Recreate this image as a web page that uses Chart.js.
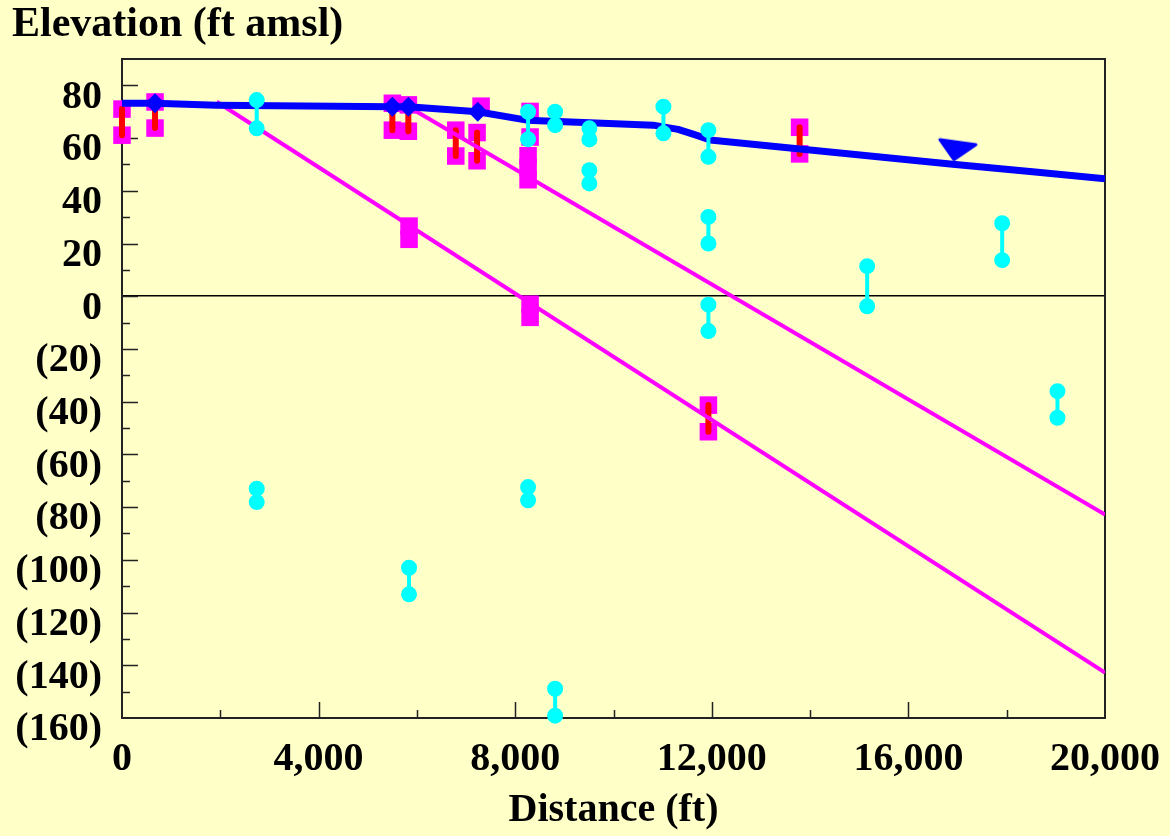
<!DOCTYPE html>
<html>
<head>
<meta charset="utf-8">
<script src="https://cdn.jsdelivr.net/npm/chart.js@4/dist/chart.umd.min.js"></script>
<style>
  html, body { margin: 0; padding: 0; background: #FFFFC8; }
  #wrap { width: 1170px; height: 836px; position: relative; }
</style>
</head>
<body>
<div id="wrap"><canvas id="chart"></canvas></div>
<script>
// water table profile (ft, ft amsl)
const waterX = [0, 672, 1927, 5501, 5826, 7238, 8236, 10806, 11314, 11650, 11966, 16850, 18580, 20000];
const waterY = [73.2, 73.2, 72.5, 71.9, 71.9, 70.0, 66.8, 64.9, 63.3, 61.3, 59.3, 50.2, 47.1, 44.6];
const diamondX = [672, 5501, 5826, 7238];
const diamondY = [73.2, 71.9, 71.9, 70.0];
const markerX = [17006];
const markerY = [55.6];

// screened wells: top / bottom of red interval
const wellX = [0, 672, 5501, 5826, 6791, 7224, 11931, 13787];
const wellTop = [71.0, 73.7, 73.2, 72.6, 63.0, 62.1, -41.3, 64.1];
const wellBottom = [61.1, 63.8, 63.0, 62.6, 53.2, 51.4, -51.4, 54.0];

// other magenta squares
const squareX = [7306, 8303, 8303, 8262, 8262, 8262, 5840, 5840, 8303, 8303];
const squareY = [72.1, 70.1, 60.4, 53.3, 48.8, 44.2, 26.6, 21.6, -3.0, -8.0];

// cyan pairs
const cyanX = [2741, 2741, 5840, 8262, 8262, 8812, 8812, 9509, 9509, 11016, 11931, 11931, 11931, 15161, 17908, 19033];
const cyanTop = [74.4, -73.0, -103.0, 70.0, -72.4, 70.0, -148.9, 63.7, 47.8, 71.9, 63.0, 30.1, -3.2, 11.4, 27.7, -36.0];
const cyanBottom = [63.7, -78.1, -113.1, 59.6, -77.4, 64.9, -159.1, 59.5, 42.8, 61.8, 52.9, 20.0, -13.2, -3.8, 13.7, -46.1];

// straight magenta lines
const lineAX = [1927, 20000];
const lineAY = [73.8, -142.8];
const lineBX = [5826, 20000];
const lineBY = [71.9, -82.8];

const yTicks = { min: -160, max: 90, step: 20 };
const xTicks = { min: 0, max: 20000, step: 4000 };

const serif = "'Liberation Serif', 'Times New Roman', serif";
const BG = '#FFFFC8';

const zip = (xs, ys) => xs.map((x, i) => ({ x, y: ys[i] }));
const pairs = (xs, tops, bottoms) => {
    const out = [];
    xs.forEach((x, i) => {
        out.push({ x, y: tops[i] }, { x, y: bottoms[i] }, { x, y: null });
    });
    return out;
};

// little tilted triangle like the water level symbol
const tri = document.createElement('canvas');
tri.width = 42; tri.height = 26;
{
    const c = tri.getContext('2d');
    c.fillStyle = '#0000FF';
    c.strokeStyle = '#0000FF';
    c.lineWidth = 3;
    c.lineJoin = 'round';
    c.beginPath();
    c.moveTo(3, 3);
    c.lineTo(39, 8);
    c.lineTo(17, 23);
    c.closePath();
    c.fill();
    c.stroke();
}

const background = {
    id: 'background',
    beforeDraw(chart) {
        const ctx = chart.ctx;
        ctx.save();
        ctx.fillStyle = BG;
        ctx.fillRect(0, 0, chart.width, chart.height);
        ctx.restore();
    }
};

// frame plus tick marks pointing into the plot
const frameTicks = {
    id: 'frameTicks',
    beforeDatasetsDraw(chart) {
        const { ctx, chartArea: a, scales: { x, y } } = chart;
        ctx.save();
        ctx.strokeStyle = '#222';
        ctx.lineWidth = 2;
        ctx.strokeRect(a.left, a.top, a.right - a.left, a.bottom - a.top);
        ctx.lineWidth = 1.5;
        ctx.beginPath();
        for (let v = yTicks.min + 10; v <= 80; v += 10) {
            const py = Math.round(y.getPixelForValue(v)) + 0.5;
            const len = v % 20 === 0 ? 16 : 8;
            ctx.moveTo(a.left, py);
            ctx.lineTo(a.left + len, py);
        }
        for (let v = 2000; v < xTicks.max; v += 2000) {
            const px = Math.round(x.getPixelForValue(v)) + 0.5;
            const len = v % 4000 === 0 ? 16 : 8;
            ctx.moveTo(px, a.bottom);
            ctx.lineTo(px, a.bottom - len);
        }
        ctx.stroke();
        ctx.restore();
    }
};

const tickFont = { family: serif, size: 40, weight: 'bold', lineHeight: 1.2 };

new Chart('chart', {
    type: 'scatter',
    data: {
        datasets: [
            {
                label: 'diamonds',
                data: zip(diamondX, diamondY),
                pointStyle: 'rectRot',
                pointRadius: 10,
                backgroundColor: '#0000FF',
                borderWidth: 0,
                order: 0
            },
            {
                label: 'water level',
                data: zip(markerX, markerY),
                pointStyle: tri,
                order: 0,
                clip: false
            },
            {
                label: 'cyan',
                data: pairs(cyanX, cyanTop, cyanBottom),
                showLine: true,
                spanGaps: false,
                borderColor: '#00FFFF',
                borderWidth: 4,
                pointRadius: 6,
                backgroundColor: '#00FFFF',
                borderCapStyle: 'round',
                order: 0.5,
                clip: false
            },
            {
                label: 'water table',
                data: zip(waterX, waterY),
                showLine: true,
                borderColor: '#0000FF',
                borderWidth: 7,
                borderJoinStyle: 'round',
                tension: 0,
                pointRadius: 0,
                order: 1
            },
            {
                label: 'line A',
                data: zip(lineAX, lineAY),
                showLine: true,
                borderColor: '#FF00FF',
                borderWidth: 4,
                pointRadius: 0,
                order: 2
            },
            {
                label: 'line B',
                data: zip(lineBX, lineBY),
                showLine: true,
                borderColor: '#FF00FF',
                borderWidth: 4,
                pointRadius: 0,
                order: 2
            },
            {
                label: 'screens',
                data: pairs(wellX, wellTop, wellBottom),
                showLine: true,
                spanGaps: false,
                borderColor: '#FF0000',
                borderWidth: 6,
                borderCapStyle: 'round',
                pointRadius: 0,
                order: 4,
                clip: false
            },
            {
                label: 'squares',
                data: zip(wellX, wellTop).concat(zip(wellX, wellBottom), zip(squareX, squareY)),
                pointStyle: 'rect',
                pointRadius: 12.4,
                backgroundColor: '#FF00FF',
                borderWidth: 0,
                order: 5,
                clip: false
            }
        ]
    },
    options: {
        responsive: true,
        maintainAspectRatio: false,
        animation: false,
        events: [],
        layout: { padding: { left: 12, right: 65, top: 0, bottom: 0 } },
        plugins: {
            legend: { display: false },
            tooltip: { enabled: false },
            title: {
                display: true,
                text: 'Elevation (ft amsl)',
                align: 'start',
                color: '#000',
                font: { family: serif, size: 42, weight: 'bold', lineHeight: 1.2 },
                padding: { top: 0, bottom: 8.6 }
            }
        },
        scales: {
            x: {
                type: 'linear',
                min: xTicks.min,
                max: xTicks.max,
                afterFit: s => {
                    s.height = 118;
                    s.paddingLeft = 0;
                    s.paddingRight = 0;
                },
                border: { display: false },
                grid: { display: false, drawTicks: false },
                ticks: {
                    stepSize: xTicks.step,
                    autoSkip: false,
                    maxRotation: 0,
                    padding: 18,
                    color: '#000',
                    font: tickFont,
                    callback: v => v.toLocaleString('en-US')
                },
                title: {
                    display: true,
                    text: 'Distance (ft)',
                    color: '#000',
                    font: { family: serif, size: 40, weight: 'bold', lineHeight: 1.2 },
                    padding: { top: 0, bottom: 1 }
                }
            },
            y: {
                type: 'linear',
                min: yTicks.min,
                max: yTicks.max,
                afterFit: s => { s.width = 110; },
                border: { display: false },
                grid: {
                    drawTicks: false,
                    color: c => (c.tick && c.tick.value === 0) ? '#000' : 'rgba(0,0,0,0)',
                    lineWidth: 1.5
                },
                ticks: {
                    stepSize: yTicks.step,
                    includeBounds: false,
                    autoSkip: false,
                    padding: 20,
                    labelOffset: 12,
                    color: '#000',
                    font: tickFont,
                    callback: v => v < 0 ? '(' + (-v) + ')' : String(v)
                }
            }
        }
    },
    plugins: [background, frameTicks]
});
</script>
</body>
</html>
